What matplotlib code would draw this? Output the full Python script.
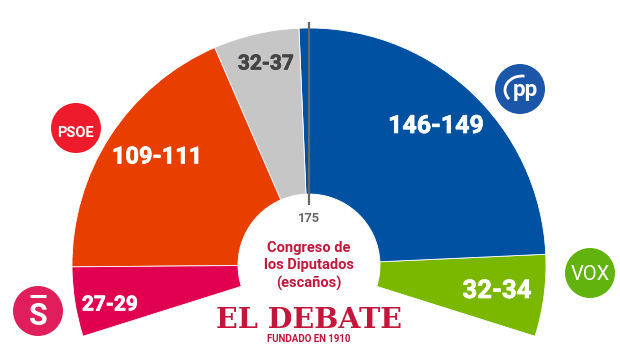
import matplotlib
matplotlib.use("Agg")
import matplotlib.pyplot as plt
import matplotlib.patheffects as pe
from matplotlib.patches import Arc, Circle

# ================= DATA =================
parties = ["Vox", "PP", "Otros", "PSOE", "Sumar"]
seats_low = [32, 146, 32, 109, 27]
seats_high = [34, 149, 37, 111, 29]
colors = ["#7ab800", "#0051a2", "#c6c6c6", "#e83e00", "#e0004f"]
majority = 175

# ================= LAYOUT =================
W, H = 620, 353
CX, CY = 309, H - 265
R_OUT, R_IN = 237, 71
SPAN = 215
START = -17.5

RED = "#c4163a"
plt.rcParams["font.family"] = ["Roboto", "DejaVu Sans"]

fig = plt.figure(figsize=(W / 100, H / 100), dpi=100)
ax = fig.add_axes([0, 0, 1, 1])

# arc is a pie with a hidden remainder slice
mid = [(a + b) / 2 for a, b in zip(seats_low, seats_high)]
hidden = sum(mid) * (360 / SPAN - 1)
wedges, _ = ax.pie(
    mid + [hidden],
    colors=colors + ["none"],
    startangle=START,
    radius=R_OUT,
    center=(CX, CY),
    wedgeprops=dict(width=R_OUT - R_IN, linewidth=0.6, edgecolor="white"),
)
wedges[-1].set_visible(False)

ax.set_xlim(0, W)
ax.set_ylim(0, H)
ax.set_aspect("equal")
ax.axis("off")

# value labels
label_pos = [(497, 291), (436, 126), (266, 64), (157, 157), (110, 305)]
label_col = ["white", "white", "#444444", "white", "white"]
label_size = [18.5, 18, 15, 17, 15]
for lo, hi, (x, y), c, fs in zip(seats_low, seats_high, label_pos, label_col, label_size):
    ax.text(x, H - y, f"{lo}-{hi}", color=c, fontsize=fs, fontweight="bold",
            ha="center", va="center",
            path_effects=[pe.withStroke(linewidth=0.5, foreground=c)])

# majority mark
ax.plot([CX, CX], [H - 22, H - 205], color="#666666", lw=1.6, solid_capstyle="butt")
ax.text(CX, H - 218, str(majority), color="#666666", fontsize=9.3, fontweight="bold",
        ha="center", va="center")

# centre text
for txt, y in zip(["Congreso de", "los Diputados", "(escaños)"], [248, 265, 283]):
    ax.text(CX, H - y, txt, color=RED, fontsize=10.5, fontweight="bold",
            ha="center", va="center")

# logo
ax.text(CX, H - 321, "EL DEBATE", color=RED, fontsize=20.5, fontweight="bold",
        family="DejaVu Serif", ha="center", va="center")
ax.text(CX, H - 339, "FUNDADO EN 1910", color=RED, fontsize=7, fontweight="bold",
        ha="center", va="center")

# party badges
badges = [
    (76, 128, "#ee1b2c", 25),
    (38, 311, "#e01f5a", 25),
    (520, 89, "#1c56a8", 25),
    (590, 273, "#63b30f", 25),
]
for x, y, c, r in badges:
    ax.add_patch(Circle((x, H - y), r, color=c, lw=0))

ax.text(75, H - 133, "PSOE", color="white", fontsize=10.5, fontweight="bold",
        ha="center", va="center")
ax.text(38, H - 316, "S", color="white", fontsize=22, fontweight="bold",
        ha="center", va="center")
ax.plot([30, 46], [H - 296, H - 296], color="white", lw=2.2, solid_capstyle="butt")
ax.text(525, H - 90, "pp", color="white", fontsize=16, fontweight="bold",
        ha="center", va="center")
ax.add_patch(Arc((522, H - 90), 34, 28, theta1=80, theta2=215, color="white", lw=2))
ax.text(590, H - 274, "VOX", color="white", fontsize=14.5, ha="center", va="center")

fig.savefig("out.png", dpi=100)
